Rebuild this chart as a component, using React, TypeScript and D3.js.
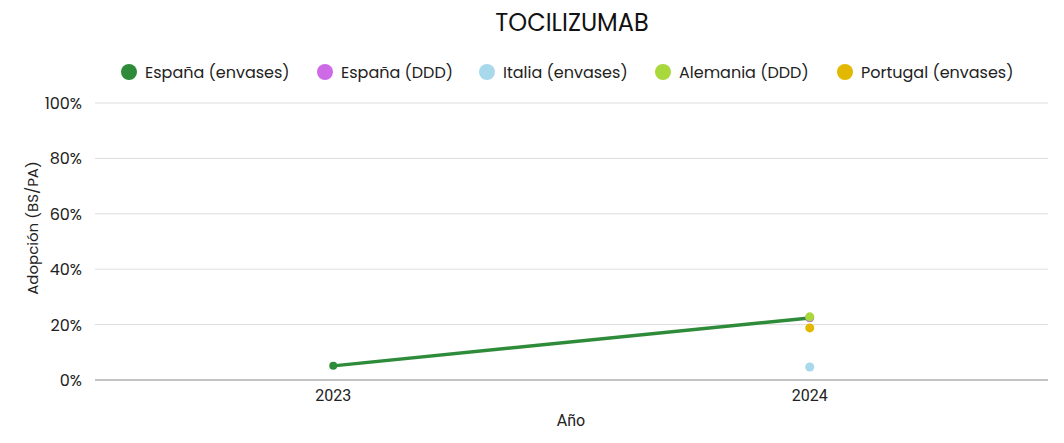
import React from "react";
import * as d3 from "d3";

const years = ["2023", "2024"];
const seriesNames = ["España (envases)", "España (DDD)", "Italia (envases)", "Alemania (DDD)", "Portugal (envases)"];
const seriesColors = ["#2e8b3a", "#cf6ae6", "#a8d8ec", "#a8d83c", "#e2b800"];
const espanaEnvases = [5.1, 22.4];
const espanaDDD = [null, 22.5];
const italiaEnvases = [null, 4.7];
const alemaniaDDD = [null, 22.8];
const portugalEnvases = [null, 18.8];
const yTicks = [0, 20, 40, 60, 80, 100];

const seriesValues = [espanaEnvases, espanaDDD, italiaEnvases, alemaniaDDD, portugalEnvases];
const legendX = [129, 325, 487, 663, 845];

const W = 1064, H = 443;
const left = 95, right = 1048, top = 103, bottom = 380;
const font = "Poppins, 'Open Sans', sans-serif";

export default function App() {
  const x = d3.scaleBand().domain(years).range([left, right]);
  const y = d3.scaleLinear().domain([0, 100]).range([bottom, top]);
  const cx = (yr: string) => (x(yr) as number) + x.bandwidth() / 2;
  const line = d3
    .line<{ yr: string; v: number | null }>()
    .defined((d) => d.v != null)
    .x((d) => cx(d.yr))
    .y((d) => y(d.v as number));

  return (
    <svg width={W} height={H} style={{ position: "absolute", left: 0, top: 0 }} fontFamily={font}>
      <rect width={W} height={H} fill="#fff" />
      <text x={572} y={31} textAnchor="middle" fontSize={24} fill="#111">TOCILIZUMAB</text>
      {seriesNames.map((n, i) => (
        <g key={n}>
          <circle cx={legendX[i]} cy={72} r={8} fill={seriesColors[i]} />
          <text x={legendX[i] + 16} y={78} fontSize={16} fill="#222">{n}</text>
        </g>
      ))}
      {yTicks.map((t) => (
        <g key={t}>
          <line x1={left} x2={right} y1={y(t)} y2={y(t)} stroke={t === 0 ? "#888" : "#dcdcdc"} strokeWidth={1} />
          <text x={82} y={y(t) + 6} textAnchor="end" fontSize={16} fill="#222">{t}%</text>
        </g>
      ))}
      {years.map((yr) => (
        <text key={yr} x={cx(yr)} y={401} textAnchor="middle" fontSize={16} fill="#222" fontFamily="Roboto, sans-serif">{yr}</text>
      ))}
      <text x={571} y={426} textAnchor="middle" fontSize={16} fill="#222" fontFamily="Roboto, sans-serif">Año</text>
      <text transform={`translate(38,228) rotate(-90)`} textAnchor="middle" fontSize={15} fill="#222">Adopción (BS/PA)</text>
      {seriesValues.map((vals, i) => {
        const pts = years.map((yr, j) => ({ yr, v: vals[j] }));
        return (
          <g key={i}>
            <path d={line(pts) || ""} fill="none" stroke={seriesColors[i]} strokeWidth={3.5} />
            {pts.filter((p) => p.v != null).map((p) => (
              <circle key={p.yr} cx={cx(p.yr)} cy={y(p.v as number)} r={i === 0 ? 4 : 4.5} fill={seriesColors[i]} />
            ))}
          </g>
        );
      })}
    </svg>
  );
}
